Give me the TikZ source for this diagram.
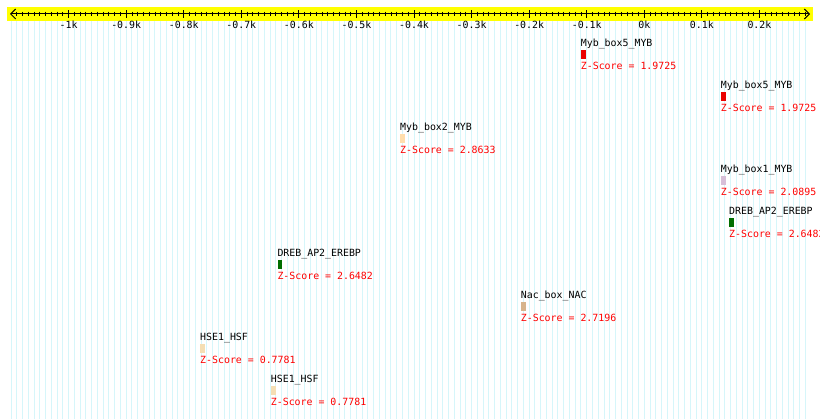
\documentclass[tikz,border=0pt]{standalone}
\usepackage{fontspec}
\setmonofont{DejaVu Sans Mono}
\usetikzlibrary{arrows.meta}
\definecolor{AxisYellow}{RGB}{255,255,0}
\definecolor{GridCyan}{RGB}{214,246,250}
\definecolor{ZRed}{RGB}{255,0,0}
\definecolor{MybRed}{RGB}{235,0,0}
\definecolor{MybPeach}{RGB}{255,222,173}
\definecolor{MybLilac}{RGB}{216,191,216}
\definecolor{DrebGreen}{RGB}{0,110,0}
\definecolor{NacTan}{RGB}{215,180,140}
\definecolor{HseWheat}{RGB}{245,222,179}
\tikzset{
	site/.style={anchor=base west,inner sep=0pt,font=\ttfamily\fontsize{9.9pt}{12pt}\selectfont},
	score/.style={site,text=ZRed},
	ticklab/.style={anchor=base,inner sep=0pt,font=\ttfamily\fontsize{9.9pt}{12pt}\selectfont},
	bar/.style={anchor=north west,inner sep=0pt,minimum width=4.6pt,minimum height=9.6pt},
	axis/.style={draw=black,line width=1pt,{Straight Barb[length=5pt,width=10pt]}-{Straight Barb[length=5pt,width=10pt]}},
}
\begin{document}
\begin{tikzpicture}[x=1pt,y=-1pt]
	\useasboundingbox (0,0) rectangle (820,419);
	% grid behind everything
	\foreach \t in {-110,...,28}
	\draw[GridCyan,line width=1pt] (644.3+5.757*\t,21) -- (644.3+5.757*\t,419);
	\fill[AxisYellow] (7,7.3) rectangle (813.3,21);
	\coordinate (axL) at (10,14);
	\coordinate (axR) at (810,14);
	\draw[axis] (axL) -- (axR);
	\foreach \t in {-109,...,28}
	\draw[line width=0.8pt] (644.3+5.757*\t,11.7) -- (644.3+5.757*\t,16.5);
	\foreach \t/\lab in {-100/-1k,-90/-0.9k,-80/-0.8k,-70/-0.7k,-60/-0.6k,-50/-0.5k,-40/-0.4k,-30/-0.3k,-20/-0.2k,-10/-0.1k,0/0k,10/0.1k,20/0.2k}
	{
		\draw[line width=0.8pt] (644.3+5.757*\t,10.3) -- (644.3+5.757*\t,18.3);
		\node[ticklab] (t\t) at (644.3+5.757*\t,28.3) {\lab};
	}
	% sites
	\foreach \k/\px/\nm/\col/\zv in {
		0/580.7/Myb\_box5\_MYB/MybRed/1.9725,
		1/720.7/Myb\_box5\_MYB/MybRed/1.9725,
		2/400/Myb\_box2\_MYB/MybPeach/2.8633,
		3/720.7/Myb\_box1\_MYB/MybLilac/2.0895,
		4/729/DREB\_AP2\_EREBP/DrebGreen/2.6482,
		5/277.3/DREB\_AP2\_EREBP/DrebGreen/2.6482,
		6/520.7/Nac\_box\_NAC/NacTan/2.7196,
		7/200/HSE1\_HSF/HseWheat/0.7781,
		8/270.7/HSE1\_HSF/HseWheat/0.7781}
	{
		\node[site] (n\k) at (\px,46.5+42*\k) {\nm};
		\node[bar,fill=\col] (b\k) at (\px,49.5+42*\k) {};
		\node[score] (z\k) at (\px,69.5+42*\k) {Z-Score = \zv};
	}
\end{tikzpicture}
\end{document}
